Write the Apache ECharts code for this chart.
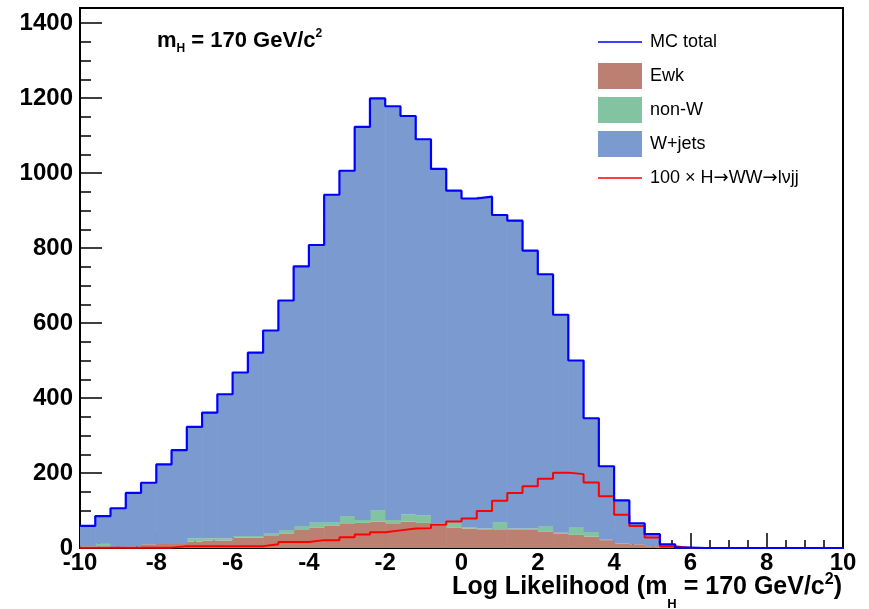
<!DOCTYPE html>
<html>
<head>
<meta charset="utf-8">
<script src="https://cdn.jsdelivr.net/npm/echarts@6/dist/echarts.min.js"></script>
<style>
  html, body { margin: 0; padding: 0; background: #fff; }
  #chart { width: 869px; height: 609px; }
</style>
</head>
<body>
<div id="chart"></div>
<script>
// Log-likelihood histogram, 50 bins of width 0.4 from -10 to 10
const binLow = -10;
const binWidth = 0.4;

// Stacked backgrounds (events per bin)
const ewk = [3, 3, 3, 4, 10, 11, 11, 17, 20, 20,
             28, 28, 32, 39, 48, 55, 59, 66, 67, 70,
             66, 70, 67, 59, 55, 52, 50, 50, 50, 48,
             43, 39, 35, 30, 21, 12, 10, 5, 2, 0,
             0, 0, 0, 0, 0, 0, 0, 0, 0, 0];
const nonW = [2, 8, 0, 0, 0, 0, 0, 9, 6, 6,
              4, 4, 6, 9, 11, 14, 10, 19, 8, 31,
              9, 20, 20, 7, 14, 3, 2, 19, 2, 4,
              16, 2, 19, 13, 1, 0, 0, 0, 0, 0,
              0, 0, 0, 0, 0, 0, 0, 0, 0, 0];
const wjets = [54, 74, 103, 143, 164, 212, 250, 297, 335, 384,
               436, 489, 542, 612, 692, 739, 873, 921, 1048, 1098,
               1103, 1062, 1003, 945, 884, 877, 885, 819, 821, 741,
               671, 581, 446, 303, 196, 115, 56, 32, 8, 1,
               0, 0, 0, 0, 0, 0, 0, 0, 0, 0];
// Higgs signal, scaled by 100
const signal100 = [1, 1, 1, 1, 1, 1, 5, 5, 5, 5,
                   5, 5, 10, 16, 16, 21, 21, 29, 36, 42,
                   47, 52, 53, 62, 71, 79, 99, 126, 147, 165,
                   185, 201, 197, 175, 138, 89, 59, 28, 5, 0,
                   0, 0, 0, 0, 0, 0, 0, 0, 0, 0];

const seriesNames = ['MC total', 'Ewk', 'non-W', 'W+jets', '100 \u00d7 H\u2192WW\u2192l\u03bdjj'];
const colors = { total: '#0000ff', ewk: '#bc8073', nonW: '#82c3a1', wjets: '#7b9bd0', signal: '#ff0000' };
const FONT = "'Liberation Sans', Arial, Helvetica, sans-serif";

const nBins = ewk.length;
const edges = [];
for (let i = 0; i <= nBins; i++) edges.push(+(binLow + i * binWidth).toFixed(3));

const total = ewk.map((v, i) => v + nonW[i] + wjets[i]);

// rectangles [x0, x1, bottom, top] for one stacked layer
function layer(values, base) {
  return values.map((v, i) => [edges[i], edges[i + 1], base[i], base[i] + v]);
}
const zeros = ewk.map(() => 0);
const ewkTop = ewk.slice();
const nonWTop = ewk.map((v, i) => v + nonW[i]);

// histogram outline: points at lower bin edges, stepping at the next edge
function outline(values) {
  const pts = values.map((v, i) => [edges[i], v]);
  pts.push([edges[nBins], values[nBins - 1]]);
  return pts;
}

function renderBin(params, api) {
  const a = api.coord([api.value(0), api.value(3)]);
  const b = api.coord([api.value(1), api.value(2)]);
  const h = b[1] - a[1];
  if (h <= 0) return null;
  return {
    type: 'rect',
    shape: { x: a[0], y: a[1], width: b[0] - a[0] + 0.6, height: h },
    style: { fill: api.visual('color') }
  };
}

function stackSeries(name, color, data) {
  return {
    name: name, type: 'custom', renderItem: renderBin,
    itemStyle: { color: color },
    encode: { x: [0, 1], y: [2, 3] },
    data: data, silent: true, z: 2
  };
}

// thin horizontal bar in a 44x26 box, used as the legend mark for line entries
const lineIcon = 'path://M0,0M0,12.2H44V13.8H0ZM44,26';

// legend text: arrows taken from DejaVu Sans
function legendText(name) {
  return name.split('\u2192').map(s => '{t|' + s + '}').join('{a|\u2192}');
}

const chart = echarts.init(document.getElementById('chart'), null, { renderer: 'canvas' });

const axisLineStyle = { color: '#000', width: 2 };
const tickStyle = { color: '#000', width: 1.5 };
const labelStyle = { fontFamily: FONT, fontSize: 24, fontWeight: 'bold', color: '#000' };

chart.setOption({
  animation: false,
  backgroundColor: '#fff',
  title: {
    text: '{m|m}{s|H}{m| = 170 GeV/c}{p|2}',
    left: 157, top: 30, padding: 0,
    textStyle: {
      rich: {
        m: { fontFamily: FONT, fontSize: 22, fontWeight: 'bold', color: '#000', lineHeight: 21 },
        s: { fontFamily: FONT, fontSize: 12, fontWeight: 'bold', color: '#000', lineHeight: 21, padding: [17, 0, 0, 0] },
        p: { fontFamily: FONT, fontSize: 12, fontWeight: 'bold', color: '#000', lineHeight: 21, padding: [0, 0, 13, 0] }
      }
    }
  },
  legend: {
    orient: 'vertical', left: 593, top: 24,
    itemWidth: 44, itemHeight: 26, itemGap: 8,
    selectedMode: false,
    formatter: legendText,
    textStyle: {
      fontFamily: FONT, fontSize: 18, color: '#000', padding: [0, 0, 0, 3],
      rich: {
        t: { fontFamily: FONT, fontSize: 18, color: '#000' },
        a: { fontFamily: "'DejaVu Sans', sans-serif", fontSize: 18, color: '#000' }
      }
    },
    data: [
      { name: seriesNames[0], icon: lineIcon },
      { name: seriesNames[1], icon: 'rect' },
      { name: seriesNames[2], icon: 'rect' },
      { name: seriesNames[3], icon: 'rect' },
      { name: seriesNames[4], icon: lineIcon }
    ]
  },
  grid: {
    left: 80, right: 26, top: 8, bottom: 61,
    containLabel: false, outerBoundsMode: 'none',
    show: true, borderColor: '#000', borderWidth: 2, backgroundColor: 'transparent'
  },
  xAxis: {
    type: 'value', min: -10, max: 10, interval: 2,
    axisLine: { onZero: false, lineStyle: axisLineStyle },
    axisTick: { inside: true, length: 15, lineStyle: tickStyle },
    minorTick: { show: true, splitNumber: 4, length: 8, lineStyle: tickStyle },
    splitLine: { show: false },
    axisLabel: Object.assign({ margin: 3, formatter: v => String(v) }, labelStyle),
    name: '{t|Log Likelihood (m}{s|H}{t| = 170 GeV/c}{p|2}{t|)}',
    nameLocation: 'end', nameGap: -1, nameMoveOverlap: false,
    nameTextStyle: {
      align: 'right', verticalAlign: 'top', padding: [27, 0, 0, 0],
      rich: {
        t: { fontFamily: FONT, fontSize: 25, fontWeight: 'bold', color: '#000', lineHeight: 25 },
        s: { fontFamily: FONT, fontSize: 13, fontWeight: 'bold', color: '#000', lineHeight: 25, padding: [34, 0, 0, 0] },
        p: { fontFamily: FONT, fontSize: 16, fontWeight: 'bold', color: '#000', lineHeight: 25, padding: [0, 0, 16, 0] }
      }
    }
  },
  yAxis: [
    {
      type: 'value', min: 0, max: 1440, interval: 200, position: 'left',
      axisLine: { show: true, onZero: false, lineStyle: axisLineStyle },
      axisTick: { inside: true, length: 22, lineStyle: tickStyle },
      splitLine: { show: false },
      axisLabel: Object.assign({ margin: 7, showMaxLabel: false, formatter: v => String(v) }, labelStyle)
    },
    {
      // minor ticks every 50
      type: 'value', min: 0, max: 1440, interval: 50, position: 'left',
      axisLine: { show: false, onZero: false },
      axisTick: { inside: true, length: 11, lineStyle: tickStyle },
      splitLine: { show: false },
      axisLabel: { show: false }
    }
  ],
  series: [
    stackSeries(seriesNames[1], colors.ewk, layer(ewk, zeros)),
    stackSeries(seriesNames[2], colors.nonW, layer(nonW, ewkTop)),
    stackSeries(seriesNames[3], colors.wjets, layer(wjets, nonWTop)),
    {
      name: seriesNames[4], type: 'line', step: 'end', symbol: 'none',
      data: outline(signal100),
      lineStyle: { color: colors.signal, width: 2 },
      itemStyle: { color: colors.signal },
      z: 3, silent: true
    },
    {
      name: seriesNames[0], type: 'line', step: 'end', symbol: 'none',
      data: outline(total),
      lineStyle: { color: colors.total, width: 2.2 },
      itemStyle: { color: colors.total },
      z: 4, silent: true
    }
  ]
});
</script>
</body>
</html>
